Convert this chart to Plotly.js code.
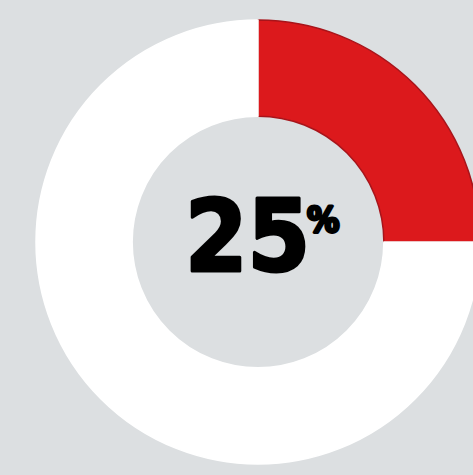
<!DOCTYPE html>
<html>
<head>
<meta charset="utf-8">
<script src="https://cdn.plot.ly/plotly-3.0.1.min.js"></script>
<style>
html,body{margin:0;padding:0;overflow:hidden;background:#dcdfe1;width:473px;height:475px;}
#chart{width:490px;height:475px;}
#chart .annotation-text{stroke:#000000;stroke-width:3px;stroke-linejoin:round;}
</style>
</head>
<body>
<div id="chart"></div>
<script>
const labels = ["Share", "Rest"];
const values = [25, 75];
const colors = ["#dc191c", "#ffffff"];
const lineColors = ["#a8141a", "#ffffff"];
const centerNumber = "25";
const centerSymbol = "%";

const data = [{
  type: "pie",
  labels: labels,
  values: values,
  hole: 0.567,
  sort: false,
  direction: "clockwise",
  rotation: 0,
  textinfo: "none",
  hoverinfo: "none",
  marker: {colors: colors, line: {color: lineColors, width: 1.5}},
  domain: {x: [36/490, 480/490], y: [11/475, 455/475]},
  showlegend: false
}];

const layout = {
  width: 490, height: 475, autosize: false,
  margin: {l: 0, r: 0, t: 0, b: 0, pad: 0},
  paper_bgcolor: "#dcdfe1",
  plot_bgcolor: "#dcdfe1",
  showlegend: false,
  annotations: [
    {text: "<b>" + centerNumber + "</b>", x: 247/490, y: 1 - 236/475, xref: "paper", yref: "paper",
     showarrow: false, xanchor: "center", yanchor: "middle",
     font: {family: "DejaVu Sans Condensed", size: 100, color: "#000000"}},
    {text: "<b>" + centerSymbol + "</b>", x: 323/490, y: 1 - 219/475, xref: "paper", yref: "paper",
     showarrow: false, xanchor: "center", yanchor: "middle",
     font: {family: "DejaVu Sans Condensed", size: 36, color: "#000000"}}
  ]
};

Plotly.newPlot("chart", data, layout, {displayModeBar: false, staticPlot: true});
</script>
</body>
</html>
